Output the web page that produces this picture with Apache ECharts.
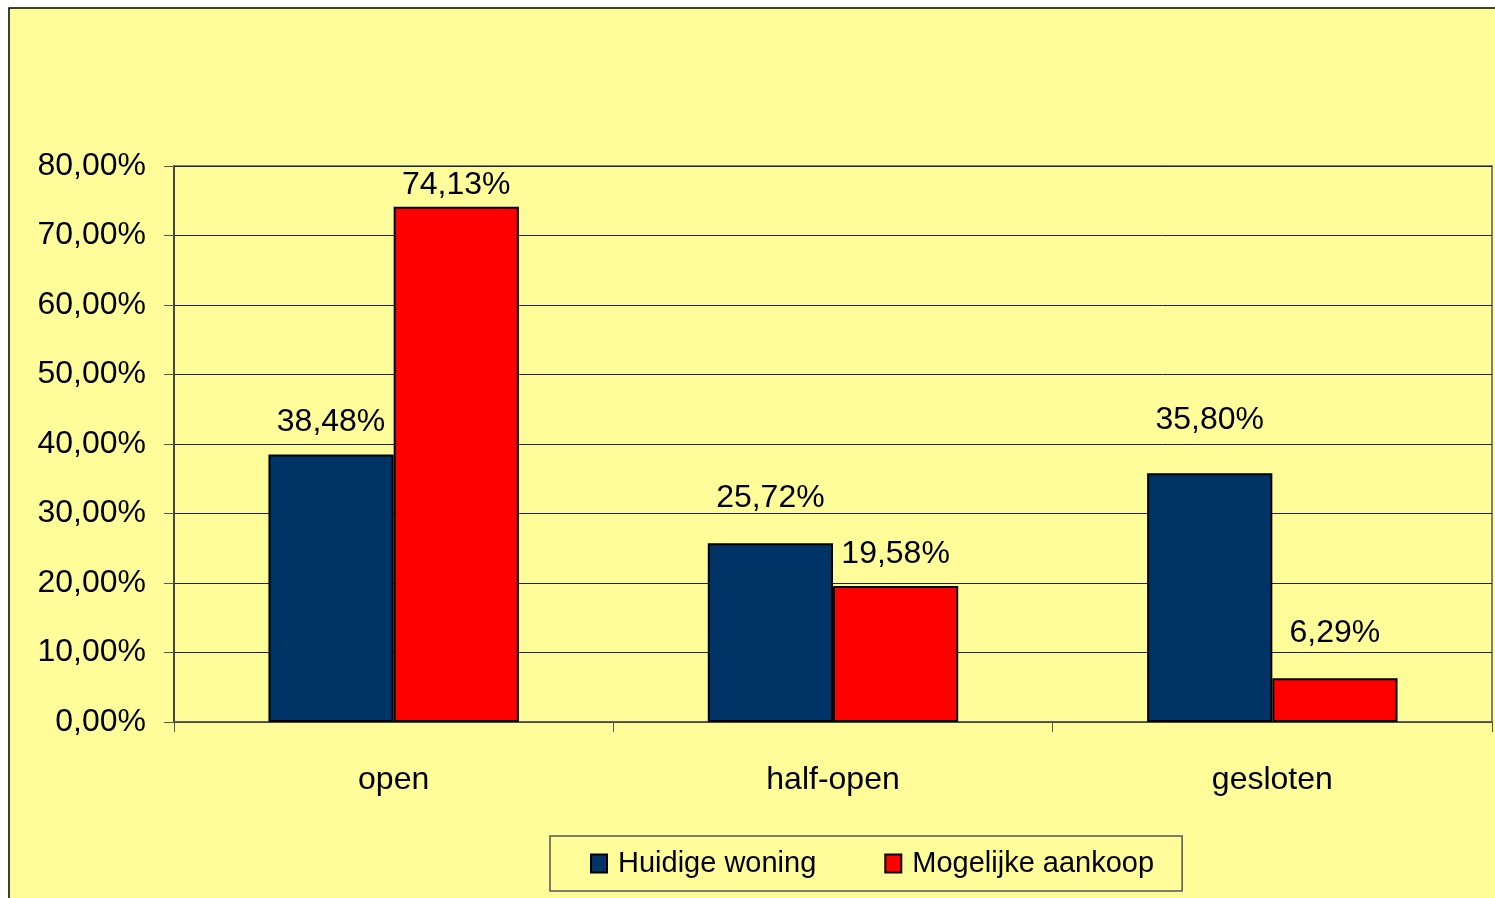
<!DOCTYPE html>
<html>
<head>
<meta charset="utf-8">
<script src="https://cdn.jsdelivr.net/npm/echarts@6/dist/echarts.min.js"></script>
<style>
  html, body { margin: 0; padding: 0; background: #ffffff; }
  #chart { width: 1495px; height: 898px; }
</style>
</head>
<body>
<div id="chart"></div>
<script>
// woningtype: huidige woning vs mogelijke aankoop
const categories = ['open', 'half-open', 'gesloten']
const huidige = [38.48, 25.72, 35.80]
const mogelijke = [74.13, 19.58, 6.29]
const seriesNames = ['Huidige woning', 'Mogelijke aankoop']

// label afstand boven de balk (zoals in het origineel, niet overal gelijk)
const labelDistHuidige = [16, 29, 37]
const labelDistMogelijke = [6, 16, 29]

const fmt = v => v.toFixed(2).replace('.', ',') + '%'
const font = '"Liberation Sans", Arial, sans-serif'

function withLabels (values, dists) {
  return values.map((v, i) => ({ value: v, label: { distance: dists[i] } }))
}

let chart = echarts.init(document.getElementById('chart'))

let option = {
  animation: false,
  backgroundColor: '#ffffff',
  textStyle: { fontFamily: font, color: '#000' },
  graphic: [
    {
      type: 'rect',
      z: -10,
      shape: { x: 9, y: 8, width: 1500, height: 900 },
      style: { fill: '#FFFD99', stroke: '#000', lineWidth: 1.5 }
    }
  ],
  grid: {
    left: 174,
    top: 166,
    right: 3,
    bottom: 176,
    show: true,
    borderColor: '#808080',
    borderWidth: 2,
    backgroundColor: 'transparent'
  },
  legend: {
    data: seriesNames,
    left: 550,
    top: 836,
    padding: [13, 28, 13, 40],
    itemGap: 68,
    itemWidth: 16,
    itemHeight: 18,
    borderColor: '#555',
    borderWidth: 1.5,
    icon: 'rect',
    textStyle: { fontSize: 29, fontFamily: font, color: '#000', padding: [0, 0, 0, 6] }
  },
  xAxis: {
    type: 'category',
    data: categories,
    axisLine: { lineStyle: { color: '#555', width: 1.5 } },
    axisTick: { show: true, alignWithLabel: false, length: 10, lineStyle: { color: '#555' } },
    axisLabel: { fontSize: 32, color: '#000', margin: 42, fontFamily: font }
  },
  yAxis: {
    type: 'value',
    min: 0,
    max: 80,
    interval: 10,
    axisLine: { show: true, lineStyle: { color: '#333', width: 1.5 } },
    axisTick: { show: true, length: 10, lineStyle: { color: '#555' } },
    axisLabel: { fontSize: 32, color: '#000', margin: 28, fontFamily: font, formatter: v => fmt(v) },
    splitLine: { lineStyle: { color: '#222', width: 1 } }
  },
  series: [
    {
      name: seriesNames[0],
      type: 'bar',
      data: withLabels(huidige, labelDistHuidige),
      barGap: '0%',
      barCategoryGap: '43%',
      itemStyle: { color: '#003366', borderColor: '#000', borderWidth: 2 },
      label: { show: true, position: 'top', fontSize: 32, color: '#000', fontFamily: font, formatter: p => fmt(p.value) }
    },
    {
      name: seriesNames[1],
      type: 'bar',
      data: withLabels(mogelijke, labelDistMogelijke),
      itemStyle: { color: '#FF0000', borderColor: '#000', borderWidth: 2 },
      label: { show: true, position: 'top', fontSize: 32, color: '#000', fontFamily: font, formatter: p => fmt(p.value) }
    }
  ]
}

chart.setOption(option)
</script>
</body>
</html>
